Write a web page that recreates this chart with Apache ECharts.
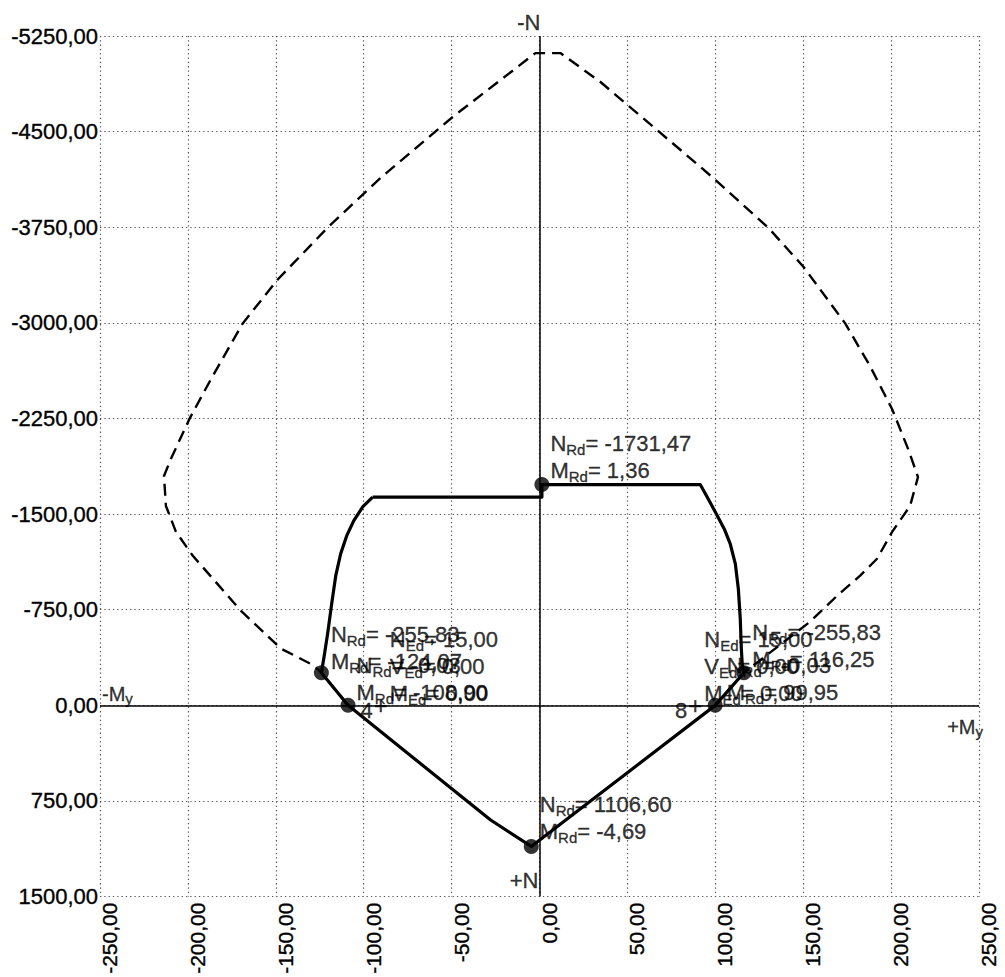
<!DOCTYPE html>
<html><head><meta charset="utf-8">
<script src="https://cdn.jsdelivr.net/npm/echarts@6/dist/echarts.min.js"></script>
<style>html,body{margin:0;padding:0;background:#fff}#c{width:1005px;height:977px}</style>
</head><body><div id="c"></div>
<script>
// ---- data ----
const xTickValues = [-250,-200,-150,-100,-50,0,50,100,150,200,250];
const yTickValues = [-5250,-4500,-3750,-3000,-2250,-1500,-750,0,750,1500];
// outer (dashed) envelope
const envelopeM = [-108.9,-124.07,-128.4,-147.2,-169.9,-197.2,-206.8,-212.5,-213.6,-209.7,-198.9,-186.9,-168.8,-148.9,-120.5,-90.3,-49.4,-2.3,11.9,34.7,91.5,100,130.1,150,173.9,188.1,200.6,209.7,215.3,210.8,200.6,192,182.4,169.3,154,116.25,99.95];
const envelopeN = [0,-255.83,-313,-446,-743,-1173,-1361,-1564,-1799,-1932,-2253,-2558,-2996,-3340,-3747,-4138,-4615,-5116,-5116,-4889,-4224,-4122,-3747,-3442,-2996,-2659,-2323,-2010,-1791,-1564,-1361,-1150,-1017,-860,-657,-255.83,0];
// design (solid) interaction curve
const designM = [-94.9,1.36,1.36,91.5,96.0,100.6,105.1,108.5,111.4,113.1,114.2,114.8,115.3,116.25,99.95,-4.69,-27.8,-108.9,-124.07,-122.7,-120.5,-118.2,-115.9,-113.1,-109.7,-105.7,-100.6,-94.9];
const designN = [-1634,-1634,-1731.47,-1731,-1619,-1501,-1384,-1267,-1110,-915,-680,-446,-328,-255.83,0,1106.6,899,0,-255.83,-368,-563,-798,-1017,-1189,-1329,-1447,-1556,-1634];
// resistance points (labelled)
const rdM = [1.36,-4.69,-124.07,116.25,-108.90,99.95];
const rdN = [-1731.47,1106.60,-255.83,-255.83,-0.03,-0.03];
// load markers (+) with their numbers and acting forces
const crossM = [-90.3,88.6];
const crossN = [0,0];
const crossNum = ['4','8'];
const loadNEd = [15,15];
const loadVEd = [0,0];
const loadMEd = [0,0];
// axis direction names
const axisNames = ['-N','+N','-M|y','+M|y'];

// ---- helpers ----
const fmt = v => v.toFixed(2).replace('.', ',');
const FF = 'Liberation Sans, Arial, sans-serif';
const ink = {color:'#000',textBorderColor:'#000',textBorderWidth:0.35};
const rich = {
  m:Object.assign({fontSize:22,fontFamily:FF,lineHeight:26},ink),
  s:Object.assign({fontSize:15,fontFamily:FF,padding:[12,0,0,0]},ink)
};
const pairs = (a,b)=>a.map((v,i)=>[v,b[i]]);

const rdOffsets = [[0,-28],[0,-28],[1,-25],[0,-27],[0,-26],[3,-26]];
const rdData = rdM.map((m,i)=>({
  value:[m,rdN[i]],
  label:{show:true,position:'right',distance:1,offset:rdOffsets[i],align:'left',
    formatter:`{m|N}{s|Rd}{m|= ${fmt(rdN[i])}}\n{m|M}{s|Rd}{m|= ${fmt(rdM[i])}}`,rich}
}));
const loadData = crossM.map((m,i)=>({
  value:[m,crossN[i]],
  label:{show:true,position:'right',distance:9,offset:[0,-39],align:'left',
    formatter:`{m|N}{s|Ed}{m|= ${fmt(loadNEd[i])}}\n{m|V}{s|Ed}{m|= ${fmt(loadVEd[i])}}\n{m|M}{s|Ed}{m|= ${fmt(loadMEd[i])}}`,rich}
}));
const nameData = [
  {value:[0,yTickValues[0]],label:{formatter:'{m|'+axisNames[0]+'}',align:'right',verticalAlign:'bottom',offset:[1,-3]}},
  {value:[0,yTickValues[yTickValues.length-1]],label:{formatter:'{m|'+axisNames[1]+'}',align:'right',verticalAlign:'bottom',offset:[-1,-5]}},
  {value:[xTickValues[0],0],label:{formatter:'{n|'+axisNames[2].split('|')[0]+'}{t|'+axisNames[2].split('|')[1]+'}',align:'left',verticalAlign:'bottom',offset:[2,1]}},
  {value:[xTickValues[xTickValues.length-1],0],label:{formatter:'{n|'+axisNames[3].split('|')[0]+'}{t|'+axisNames[3].split('|')[1]+'}',align:'right',verticalAlign:'top',offset:[4,9]}}
];

const chart = echarts.init(document.getElementById('c'),null,{renderer:'svg'});
const gridLine = {show:true,lineStyle:{color:'#555',width:1.2,type:[1.3,3]}};
chart.setOption({
  animation:false,
  backgroundColor:'#fff',
  grid:{left:100,right:26,top:36,bottom:78,containLabel:false},
  xAxis:{type:'value',min:xTickValues[0],max:xTickValues[xTickValues.length-1],interval:50,
    axisLine:{show:false},axisTick:{show:false},splitLine:gridLine,
    axisLabel:Object.assign({rotate:90,margin:6,fontSize:21,fontFamily:FF,verticalAlign:'top',lineHeight:19,formatter:v=>fmt(v),showMinLabel:true,showMaxLabel:true},ink)},
  yAxis:{type:'value',inverse:true,min:yTickValues[0],max:yTickValues[yTickValues.length-1],interval:750,
    axisLine:{show:false},axisTick:{show:false},splitLine:gridLine,
    axisLabel:Object.assign({margin:2,fontSize:22,fontFamily:FF,padding:[5,0,0,0],formatter:v=>fmt(v),showMinLabel:true,showMaxLabel:true},ink)},
  series:[
    {type:'line',data:pairs(envelopeM,envelopeN),showSymbol:false,symbol:'none',z:3,
     lineStyle:{color:'#000',width:2.4,type:[12,7]},
     markLine:{silent:true,symbol:['none','none'],label:{show:false},
       lineStyle:{color:'#000',width:1.5,type:'solid'},data:[{xAxis:0},{yAxis:0}]}},
    {type:'line',data:pairs(designM,designN),showSymbol:false,symbol:'none',z:4,
     lineStyle:{color:'#000',width:3.2,join:'round'}},
    {type:'scatter',data:rdData,symbolSize:15,itemStyle:{color:'#000'},z:6},
    {type:'scatter',data:loadData,symbolSize:0,z:6},
    {type:'scatter',data:pairs(crossM,crossN),symbolSize:0,z:6,
     label:Object.assign({show:true,position:'inside',formatter:'+',fontSize:24,fontFamily:FF},ink)},
    {type:'scatter',data:crossM.map((m,i)=>({value:[m,crossN[i]],label:{formatter:crossNum[i]}})),symbolSize:0,z:6,
     label:Object.assign({show:true,position:'left',distance:8,offset:[0,5],fontSize:22,fontFamily:FF},ink)},
    {type:'scatter',data:nameData,symbolSize:0,z:6,
     label:{show:true,position:'inside',rich:{
       m:Object.assign({fontSize:22,fontFamily:FF},ink),
       n:Object.assign({fontSize:20,fontFamily:FF},ink),
       t:Object.assign({fontSize:15,fontFamily:FF,padding:[10,0,0,0]},ink)}}}
  ]
});
</script></body></html>
